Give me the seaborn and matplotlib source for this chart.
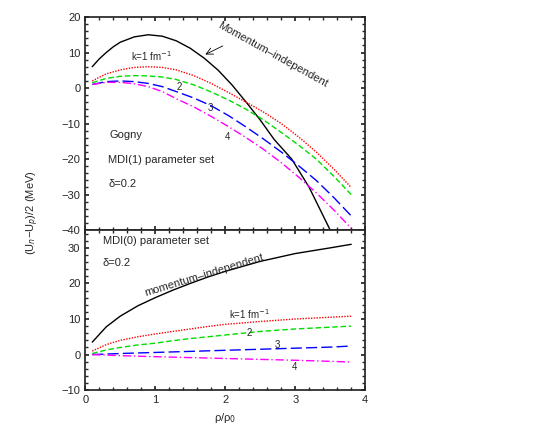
import matplotlib
matplotlib.use("Agg")
import matplotlib.pyplot as plt
import seaborn as sns

sns.set_theme(style="ticks")
plt.rcParams["font.family"] = ["Liberation Sans", "DejaVu Sans"]

# top panel: Gogny / MDI(1)
top_x_mi = [0.1, 0.2, 0.3, 0.4, 0.5, 0.7, 0.9, 1.1, 1.3, 1.5, 1.7, 1.9, 2.1, 2.3, 2.5, 2.7, 2.95, 3.2, 3.5]
top_mi = [6, 8.2, 10, 11.6, 12.9, 14.4, 15, 14.6, 13.3, 11.2, 8.4, 5, 0.8, -4, -9, -14.5, -20, -28, -40]
top_x = [0.1, 0.3, 0.5, 0.7, 0.9, 1.1, 1.3, 1.55, 1.8, 2.05, 2.3, 2.55, 2.8, 3.05, 3.3, 3.55, 3.8]
top_k1 = [2, 4, 5.1, 5.8, 6, 5.8, 5.1, 3.5, 1.3, -1.3, -4, -6.8, -10, -13.8, -18, -22.8, -28]
top_k2 = [1.5, 2.7, 3.3, 3.5, 3.4, 3.1, 2.4, 0.9, -1.1, -3.4, -6, -9, -12.5, -16.1, -20, -24.8, -30]
top_k3 = [1, 1.8, 2, 1.8, 1.3, 0.4, -1, -2.8, -5, -7.8, -11, -14.4, -18, -21.9, -26, -30.8, -36]
top_k4 = [1, 1.6, 1.6, 1.2, 0.4, -1, -3, -5.3, -8, -10.9, -14, -17.3, -21, -25.1, -29.5, -34.3, -39.5]

# bottom panel: MDI(0)
bot_x = [0.1, 0.3, 0.5, 0.75, 1.0, 1.25, 1.5, 1.75, 2.0, 2.5, 3.0, 3.5, 3.8]
bot_mi = [3.5, 7.8, 10.8, 13.7, 16, 18.1, 20, 21.8, 23.4, 26.2, 28.4, 30, 31]
bot_k1 = [1, 2.8, 4, 5, 5.8, 6.5, 7.2, 7.9, 8.5, 9.3, 10, 10.5, 10.8]
bot_k2 = [0.3, 1.3, 2, 2.7, 3.2, 3.9, 4.5, 5, 5.5, 6.5, 7.2, 7.7, 8]
bot_k3 = [0, 0.15, 0.3, 0.45, 0.6, 0.75, 0.9, 1.05, 1.2, 1.5, 1.8, 2.1, 2.4]
bot_k4 = [0, -0.15, -0.3, -0.45, -0.6, -0.72, -0.85, -0.97, -1.1, -1.35, -1.6, -1.9, -2.1]

styles = [("red", (0, (1, 1))), ("#00dd00", (0, (4, 2))),
          ("blue", (0, (8, 3))), ("magenta", (0, (6, 2, 1, 2)))]

fig = plt.figure(figsize=(5.5, 4.25), dpi=100)
gs = fig.add_gridspec(2, 1, height_ratios=[213, 160], hspace=0,
                      left=0.155, right=0.664, top=0.96, bottom=0.082)
ax1 = fig.add_subplot(gs[0])
ax2 = fig.add_subplot(gs[1], sharex=ax1)

sns.lineplot(x=top_x_mi, y=top_mi, ax=ax1, color="black", lw=1)
for ys, (c, ls) in zip([top_k1, top_k2, top_k3, top_k4], styles):
    sns.lineplot(x=top_x, y=ys, ax=ax1, color=c, linestyle=ls, lw=1)
sns.lineplot(x=bot_x, y=bot_mi, ax=ax2, color="black", lw=1)
for ys, (c, ls) in zip([bot_k1, bot_k2, bot_k3, bot_k4], styles):
    sns.lineplot(x=bot_x, y=ys, ax=ax2, color=c, linestyle=ls, lw=1)

fs = 8
ax1.set_xlim(0, 4)
ax1.set_ylim(-40, 20)
ax1.set_yticks([-40, -30, -20, -10, 0, 10, 20])
ax2.set_ylim(-10, 35)
ax2.set_yticks([-10, 0, 10, 20, 30])
ax2.set_xticks([0, 1, 2, 3, 4])
ax1.tick_params(labelbottom=False)
for ax in (ax1, ax2):
    ax.tick_params(direction="in", top=True, right=True, labelsize=fs, length=3)
    ax.minorticks_on()
    ax.tick_params(which="minor", direction="in", top=True, right=True, length=2)

ax1.text(2.68, 9.5, "Momentum–independent", rotation=-29, fontsize=fs,
         ha="center", va="center")
ax1.annotate("", xy=(1.68, 9.1), xytext=(2.0, 12.2),
             arrowprops=dict(arrowstyle="->", lw=0.6, color="black"))
ax1.text(0.65, 7.5, "k=1 fm$^{-1}$", fontsize=7)
ax1.text(1.3, -0.5, "2", fontsize=7)
ax1.text(1.75, -6.5, "3", fontsize=7)
ax1.text(2.0, -14.5, "4", fontsize=7)
ax1.text(0.35, -14, "Gogny", fontsize=fs)
ax1.text(0.33, -21, "MDI(1) parameter set", fontsize=fs)
ax1.text(0.33, -28, "δ=0.2", fontsize=fs)

ax2.text(0.25, 31, "MDI(0) parameter set", fontsize=fs)
ax2.text(0.25, 25, "δ=0.2", fontsize=fs)
ax2.text(1.7, 22.3, "momentum–independent", rotation=17, fontsize=fs,
         ha="center", va="center")
ax2.text(2.05, 10, "k=1 fm$^{-1}$", fontsize=7)
ax2.text(2.3, 5.3, "2", fontsize=7)
ax2.text(2.7, 1.8, "3", fontsize=7)
ax2.text(2.95, -4.2, "4", fontsize=7)

ax2.set_xlabel("ρ/ρ$_0$", fontsize=fs)
fig.text(0.06, 0.5, "(U$_n$−U$_p$)/2 (MeV)", rotation=90, fontsize=fs,
         ha="center", va="center")

fig.savefig("out.png", dpi=100)
